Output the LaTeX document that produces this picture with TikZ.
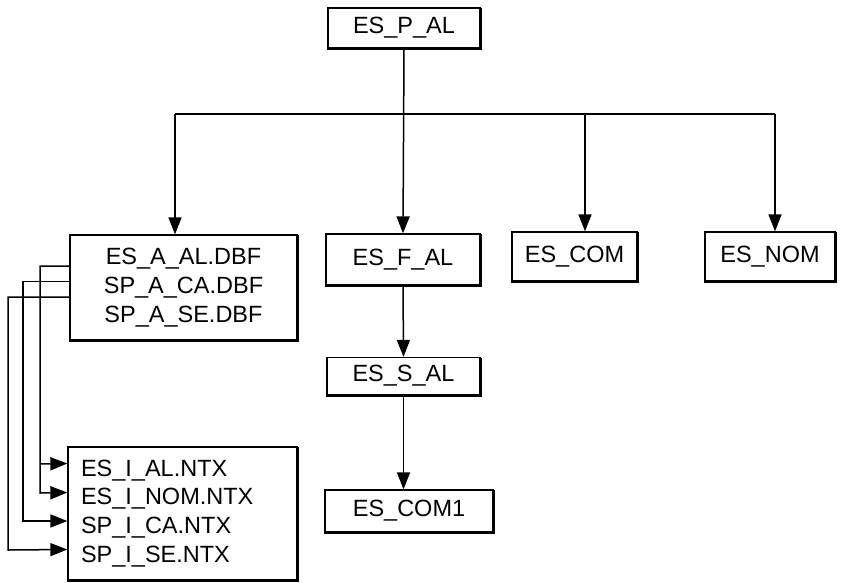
\documentclass[tikz,border=0pt]{standalone}
\usepackage{fontspec}
\setmainfont{Liberation Sans}
\usetikzlibrary{arrows.meta,calc}
\begin{document}
\begin{tikzpicture}[x=1pt,y=-1pt,
  box/.style={draw,line width=1.3pt,fill=white,inner sep=0pt,font=\fontsize{23.5}{28.8}\selectfont},
  shade/.style={line width=2.4pt},
  arr/.style={line width=1.5pt,-{Triangle[width=13pt,length=17pt]}},
  ln/.style={line width=1.5pt}]
\useasboundingbox (0,0) rectangle (843,582);
\node[box,minimum width=152pt,minimum height=40pt] (pal) at (404,28) {ES\_P\_AL};
\node[box,minimum width=227pt,minimum height=105pt,align=center] (aal) at (183.5,287.5)
  {ES\_A\_AL.DBF\\SP\_A\_CA.DBF\\SP\_A\_SE.DBF};
\node[box,minimum width=154pt,minimum height=51pt] (fal) at (403,259.5) {ES\_F\_AL};
\node[box,minimum width=125pt,minimum height=49pt] (com) at (574.5,256.5) {ES\_COM};
\node[box,minimum width=130pt,minimum height=49pt] (nom) at (770,256.5) {ES\_NOM};
\node[box,minimum width=153pt,minimum height=37pt] (sal) at (403.5,376) {ES\_S\_AL};
\node[box,minimum width=168pt,minimum height=42pt] (com1) at (409,511) {ES\_COM1};
\node[box,minimum width=229pt,minimum height=133pt,align=left,text width=203pt] (ial) at (182.5,513.5)
  {ES\_I\_AL.NTX\\ES\_I\_NOM.NTX\\SP\_I\_CA.NTX\\SP\_I\_SE.NTX};
% shadow edges (bottom and right)
\foreach \n in {pal,aal,fal,com,nom,sal,com1,ial}
  \draw[shade] ([xshift=0.6pt,yshift=-1pt]\n.north east) -- ([xshift=0.6pt,yshift=-0.6pt]\n.south east) -- ([yshift=-0.6pt]\n.south west);
% bus
\coordinate (bl) at (175,114);
\coordinate (bc) at (585,114);
\coordinate (br) at (775,114);
\draw[ln] (bl) -- (br);
\draw[arr] (pal.south) -- (fal.north);
\draw[arr] (bl) -- (bl |- aal.north);
\draw[arr] (bc) -- (bc |- com.north);
\draw[arr] (br) -- (br |- nom.north);
\draw[arr] (fal.south) -- (sal.north);
\draw[arr] (sal.south) -- (sal.south |- com1.north);
% left connectors
\path (aal.west) ++(0,-21.5) coordinate (o1) ++(0,15.5) coordinate (o2) ++(0,15.5) coordinate (o3);
\path (ial.west) ++(0,-50) coordinate (i1) ++(0,29) coordinate (i2) ++(0,28.5) coordinate (i3) ++(0,28.5) coordinate (i4);
\draw[arr] (o1) -| (40,493) -- (i2);
\draw[arr] (40,464) -- (i1);
\draw[arr] (o2) -| (23,521) -- (i3);
\draw[arr] (o3) -| (8,550) -- (i4);
\end{tikzpicture}
\end{document}
